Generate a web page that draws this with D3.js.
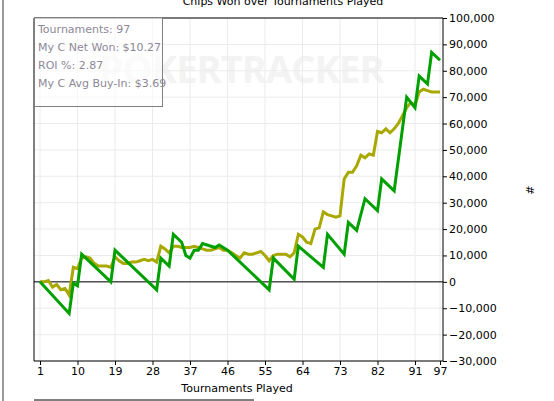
<!DOCTYPE html>
<html><head><meta charset="utf-8">
<script src="https://cdn.jsdelivr.net/npm/d3@7"></script>
<style>body{margin:0;background:#fff;font-family:"DejaVu Sans",sans-serif}</style>
</head><body><div id="graph"></div>
<script>
// data
const xTicks = [1, 10, 19, 28, 37, 46, 55, 64, 73, 82, 91, 97];
const yTicks = [-30000, -20000, -10000, 0, 10000, 20000, 30000, 40000, 50000, 60000, 70000, 80000, 90000, 100000];
const greenT = [1, 8, 9, 10, 11, 18, 19, 29, 30, 32, 33, 35, 36, 37, 38, 39, 40, 43, 44, 46, 56, 57, 62, 63, 69, 70, 74, 75, 77, 79, 82, 83, 86, 89, 91, 92, 94, 95, 97];
const greenV = [0, -12000, -500, -1500, 10500, 0, 12000, -3000, 9000, 6000, 18000, 15000, 10000, 9000, 12000, 12000, 14500, 13000, 14000, 12000, -3000, 9000, 1000, 13500, 5500, 18000, 10500, 22500, 19500, 31500, 27000, 39000, 34500, 70000, 66000, 78000, 75000, 87000, 84000];
const oliveV = [0, 0, 500, -2000, -1000, -3000, -2500, -5000, 5500, 5000, 9000, 9500, 9000, 7000, 6000, 6000, 6000, 5500, 9500, 8000,
  7000, 7000, 7500, 7500, 8000, 8500, 8000, 8500, 7500, 13500, 12500, 11000, 13500, 13500, 13000, 13000, 13000, 13500, 13000, 12500,
  12000, 12000, 12500, 13000, 12000, 12000, 11000, 10000, 9000, 11000, 10500, 10500, 11000, 11500, 10000, 8000, 10000, 10500, 10500, 10500,
  9500, 11000, 18000, 17000, 15000, 14500, 20000, 20500, 26500, 25500, 25000, 24500, 25000, 39000, 41500, 41500, 44000, 48000, 47000, 48500,
  48000, 57000, 56500, 58000, 56500, 58000, 60000, 63000, 66000, 68000, 67000, 72000, 73000, 72500, 72000, 72000, 72000];
const infoLines = ["Tournaments: 97", "My C Net Won: $10.27", "ROI %: 2.87", "My C Avg Buy-In: $3.69"];

const W = 554, H = 401;
const L = 34, R = 443, T = 18, B = 361;
const svg = d3.select("#graph").append("svg").attr("width", W).attr("height", H);

const x = d3.scaleLinear().domain([1, 97]).range([40, 440]);
const y = d3.scaleLinear().domain([-30000, 100000]).range([B, T]);

// left window edge
svg.append("rect").attr("x", 2).attr("y", 0).attr("width", 2).attr("height", H).attr("fill", "#999");

// watermark
svg.append("text").attr("x", 242).attr("y", 83).attr("text-anchor", "middle")
  .attr("font-family", "Open Sans, sans-serif").attr("font-weight", "bold").attr("font-size", 38)
  .attr("textLength", 285).attr("fill", "#f3f3f3").text("POKERTRACKER");

// grid
svg.append("g").selectAll("line").data(yTicks).join("line")
  .attr("x1", L).attr("x2", R).attr("y1", d => y(d)).attr("y2", d => y(d))
  .attr("stroke", "#ebebeb");
svg.append("g").selectAll("line").data(xTicks).join("line")
  .attr("x1", d => x(d)).attr("x2", d => x(d)).attr("y1", T).attr("y2", B)
  .attr("stroke", "#ebebeb");

// zero line
svg.append("line").attr("x1", L).attr("x2", R).attr("y1", y(0)).attr("y2", y(0)).attr("stroke", "#000");

// lines
const line = d3.line().x(d => x(d[0])).y(d => y(d[1]));
svg.append("path").datum(oliveV.map((v, i) => [i + 1, v])).attr("d", line)
  .attr("fill", "none").attr("stroke", "#a8a800").attr("stroke-width", 3);
svg.append("path").datum(greenT.map((t, i) => [t, greenV[i]])).attr("d", line)
  .attr("fill", "none").attr("stroke", "#00a000").attr("stroke-width", 3);

// frame
svg.append("path").attr("d", `M${L},${T}V${B}H${R}V${T}`).attr("fill", "none").attr("stroke", "#000");
svg.append("line").attr("x1", L).attr("x2", R).attr("y1", T).attr("y2", T).attr("stroke", "#000");

// axes
const fmt = d3.format(",");
const ya = svg.append("g").attr("transform", `translate(${R},0)`)
  .call(d3.axisRight(y).tickValues(yTicks).tickFormat(fmt).tickSize(4).tickPadding(2));
const xa = svg.append("g").attr("transform", `translate(0,${B})`)
  .call(d3.axisBottom(x).tickValues(xTicks).tickSize(4).tickPadding(2));
[ya, xa].forEach(a => {
  a.select(".domain").remove();
  a.selectAll("text").attr("font-family", "DejaVu Sans, sans-serif").attr("font-size", 11).attr("fill", "#000");
});

// titles
svg.append("text").attr("x", 283).attr("y", 5).attr("text-anchor", "middle")
  .attr("font-size", 11).text("Chips Won over Tournaments Played");
svg.append("text").attr("x", 237).attr("y", 392).attr("text-anchor", "middle")
  .attr("font-size", 11).text("Tournaments Played");
svg.append("text").attr("transform", "translate(526,190) rotate(90)").attr("text-anchor", "middle")
  .attr("font-size", 11).text("#");
svg.append("line").attr("x1", 34).attr("x2", 254).attr("y1", 400).attr("y2", 400).attr("stroke", "#000");

// info box
svg.append("rect").attr("x", 34.5).attr("y", 17.5).attr("width", 128).attr("height", 89)
  .attr("fill", "rgba(255,255,255,0.6)").attr("stroke", "#808080");
svg.append("g").selectAll("text").data(infoLines).join("text")
  .attr("x", 38).attr("y", (d, i) => 33 + i * 18).attr("font-size", 11).attr("fill", "#8c8896")
  .text(d => d);
</script></body></html>
